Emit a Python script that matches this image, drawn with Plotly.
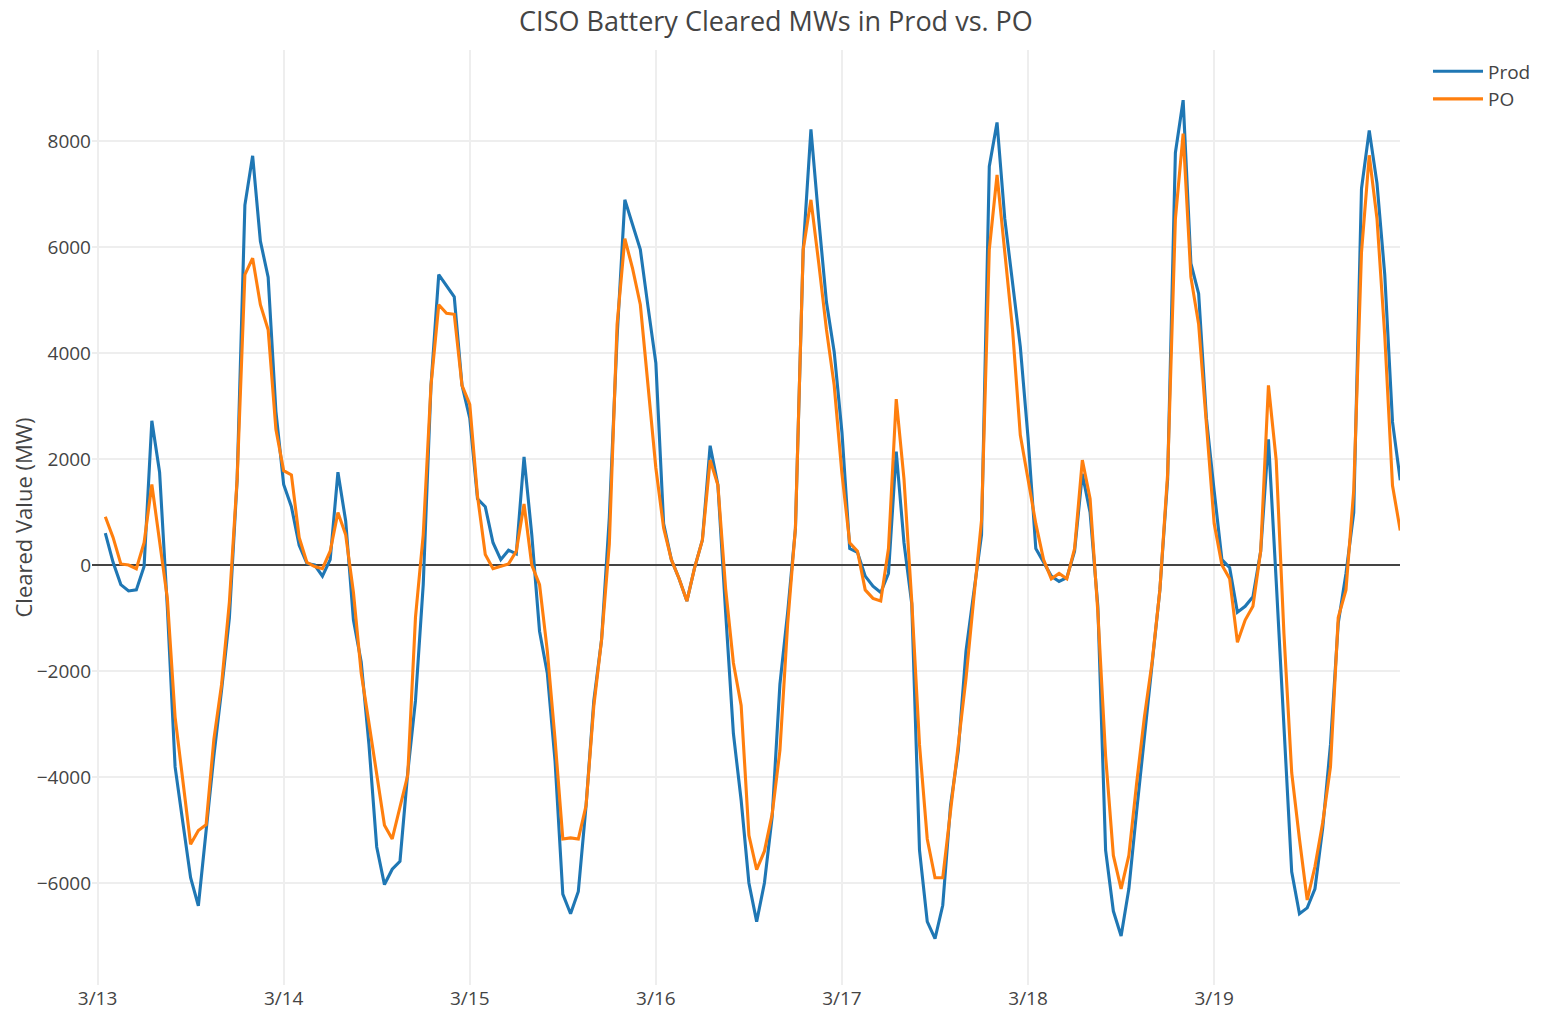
import pandas as pd
import plotly.graph_objects as go

# hourly timestamps (hour ending), 3/13 01:00 .. 3/20 00:00
hours = pd.date_range("2023-03-13 01:00", periods=168, freq="h")

prod = [
    600, 50, -370, -490, -470, -30, 2720, 1750, -800, -3810, -4860, -5900,
    -6430, -4960, -3600, -2350, -1000, 1600, 6790, 7720, 6110, 5430, 2900, 1520,
    1100, 370, 30, 0, -210, 100, 1750, 830, -1040, -1830, -3390, -5320,
    -6030, -5740, -5590, -3920, -2560, -370, 3390, 5480, 5270, 5060, 3390, 2770,
    1250, 1100, 420, 100, 280, 210, 2040, 570, -1250, -2040, -3700, -6210,
    -6580, -6160, -4540, -2560, -1410, 900, 4300, 6890, 6420, 5950, 4860, 3810,
    780, 100, -260, -680, -50, 470, 2250, 1510, -900, -3180, -4440, -6000,
    -6730, -6000, -4750, -2250, -890, 680, 5950, 8220, 6530, 4960, 4020, 2500,
    310, 240, -210, -400, -520, -160, 2140, 420, -730, -5380, -6730, -7050,
    -6420, -4540, -3500, -1620, -520, 570, 7520, 8350, 6530, 5380, 4120, 2400,
    310, 50, -210, -310, -240, 260, 1720, 990, -780, -5380, -6530, -7000,
    -6110, -4650, -3290, -1830, -470, 1620, 7780, 8770, 5690, 5120, 2770, 1400,
    100, -50, -890, -780, -600, 260, 2370, -300, -3000, -5790, -6580, -6470,
    -6110, -4960, -3390, -1100, -160, 990, 7100, 8200, 7200, 5480, 2700, 1600,
]

po = [
    910, 520, 20, 0, -70, 420, 1520, 420, -630, -2870, -4120, -5270,
    -5010, -4900, -3290, -2250, -700, 1620, 5480, 5790, 4910, 4440, 2560, 1780,
    1700, 520, 50, -30, -70, 260, 990, 570, -520, -2040, -2980, -3920,
    -4910, -5170, -4540, -3970, -990, 570, 3390, 4910, 4750, 4730, 3390, 3030,
    1300, 200, -70, -30, 20, 260, 1150, 0, -370, -1620, -3290, -5170,
    -5150, -5170, -4540, -2660, -1410, 400, 4540, 6160, 5590, 4910, 3390, 1830,
    700, 100, -260, -680, -50, 470, 1980, 1510, -450, -1850, -2650, -5100,
    -5750, -5400, -4700, -3500, -1100, 700, 5950, 6890, 5700, 4440, 3390, 1720,
    420, 260, -470, -630, -680, 310, 3130, 1620, -680, -3390, -5170, -5900,
    -5900, -4650, -3500, -2140, -630, 840, 5950, 7360, 5900, 4440, 2450, 1620,
    780, 100, -260, -160, -260, 310, 1980, 1250, -890, -3600, -5480, -6110,
    -5480, -4120, -2870, -1830, -470, 1720, 6530, 8140, 5430, 4540, 2660, 780,
    0, -260, -1460, -1040, -780, 260, 3390, 1980, -1300, -3920, -5170, -6320,
    -5690, -4860, -3810, -990, -470, 1410, 5900, 7730, 6530, 4330, 1500, 650,
]

series_names = ["Prod", "PO"]
series_colors = ["#1f77b4", "#ff7f0e"]
title_text = "CISO Battery Cleared MWs in Prod vs. PO"
y_title = "Cleared Value (MW)"

fig = go.Figure()
for name, vals, col in zip(series_names, [prod, po], series_colors):
    fig.add_trace(go.Scatter(x=hours, y=vals, mode="lines", name=name,
                             line=dict(color=col, width=3.1)))

# the page body adds an 8px margin at the top-left
W, H = 1541, 1003
FONT = '"Open Sans", verdana, arial, sans-serif'
fig.update_layout(
    width=W, height=H,
    margin=dict(l=84, r=149, t=42, b=26),
    paper_bgcolor="white", plot_bgcolor="white",
    font=dict(family=FONT, color="#444", size=19),
    title=dict(text=title_text, x=(776 - 8) / W, xanchor="center",
               xref="container",
               y=1 - 13.5 / H, yref="container", yanchor="middle",
               font=dict(size=27, color="#444")),
    legend=dict(x=1.0214, y=0.9975, xanchor="left", yanchor="top",
                font=dict(size=19), itemwidth=50),
    showlegend=True,
)
fig.update_xaxes(
    range=["2023-03-12 23:17", "2023-03-19 23:58"],
    tick0="2023-03-13", dtick=86400000, tickformat="%-m/%d",
    showgrid=True, gridcolor="#eee", gridwidth=1.5,
    zeroline=False, showline=False, ticks="", automargin=False,
    tickfont=dict(size=19),
)
fig.update_yaxes(
    range=[-7925, 9717],
    dtick=2000, showgrid=True, gridcolor="#eee", gridwidth=1.5,
    zeroline=True, zerolinecolor="#444", zerolinewidth=1.5,
    showline=False, ticks="", tickfont=dict(size=19), automargin=False,
    title=dict(text=y_title, font=dict(size=22), standoff=4),
)

fig.write_html("out.html")
